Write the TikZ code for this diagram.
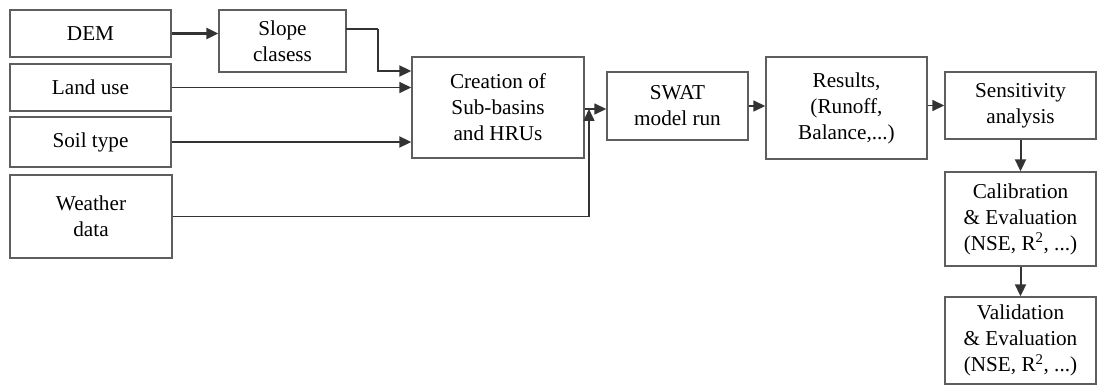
\documentclass[tikz,border=0pt]{standalone}
\usepackage{fontspec}
\setmainfont{Liberation Serif}
\usetikzlibrary{arrows.meta}
\definecolor{boxline}{HTML}{5E5E5E}
\definecolor{flow}{HTML}{333333}
\tikzset{
  stepbox/.style={draw=boxline, line width=1.4pt, fill=white, inner sep=0pt,
    align=center, font=\fontsize{21.2}{26}\selectfont, text=black},
  link/.style={draw=flow, line width=1.5pt,
    -{Triangle[length=12pt,width=11pt]}},
  plain/.style={draw=flow, line width=1.5pt},
}
\begin{document}
\begin{tikzpicture}[x=1pt, y=-1pt]
\useasboundingbox (0,0) rectangle (1098,385);

% input data
\node[stepbox, minimum width=161pt, minimum height=47pt] (dem) at (90.5,33.5) {DEM};
\node[stepbox, minimum width=161pt, minimum height=47pt] (land) at (90.5,87.5) {Land use};
\node[stepbox, minimum width=161pt, minimum height=50pt] (soil) at (90.5,142) {Soil type};
\node[stepbox, minimum width=162pt, minimum height=83pt] (weather) at (91,216.5) {Weather\\data};
\node[stepbox, minimum width=127pt, minimum height=62pt] (slope) at (282.5,41) {Slope\\clasess};

% model chain
\node[stepbox, minimum width=172pt, minimum height=101pt] (hru) at (498,107.5) {Creation of\\Sub-basins\\and HRUs};
\node[stepbox, minimum width=141pt, minimum height=68pt] (swat) at (677.5,106) {SWAT\\model run};
\node[stepbox, minimum width=161pt, minimum height=102pt] (res) at (846.5,108) {Results,\\(Runoff,\\Balance,...)};
\node[stepbox, minimum width=151pt, minimum height=67pt] (sens) at (1020.5,105.5) {Sensitivity\\analysis};
\node[stepbox, minimum width=151pt, minimum height=94pt] (cal) at (1020.5,219) {Calibration\\\& Evaluation\\(NSE, R\textsuperscript{2}, ...)};
\node[stepbox, minimum width=151pt, minimum height=87pt] (val) at (1020.5,340.5) {Validation\\\& Evaluation\\(NSE, R\textsuperscript{2}, ...)};

% routing points
\coordinate (sl0) at (346,29);
\coordinate (sl1) at (378,29);
\coordinate (sl2) at (378,71);
\coordinate (jn) at (589,109);

% connectors
\draw[link, line width=2.6pt] (dem.east) -- (slope.west |- dem.east);
\draw[plain] (sl0) -- (sl1);
\draw[link, line width=2pt] (sl1) -- (sl2) -- (hru.west |- sl2);
\draw[link] (land.east) -- (hru.west |- land.east);
\draw[link, line width=2pt] (soil.east) -- (hru.west |- soil.east);
\draw[link] (weather.east) -| (jn);
\draw[link] (hru.east |- jn) -- (swat.west |- jn);
\draw[link] (swat.east) -- (res.west |- swat.east);
\draw[link] (res.east |- sens.west) -- (sens.west);
\draw[link, line width=2pt] (sens.south) -- (cal.north);
\draw[link, line width=2pt] (cal.south) -- (val.north);
\end{tikzpicture}
\end{document}
